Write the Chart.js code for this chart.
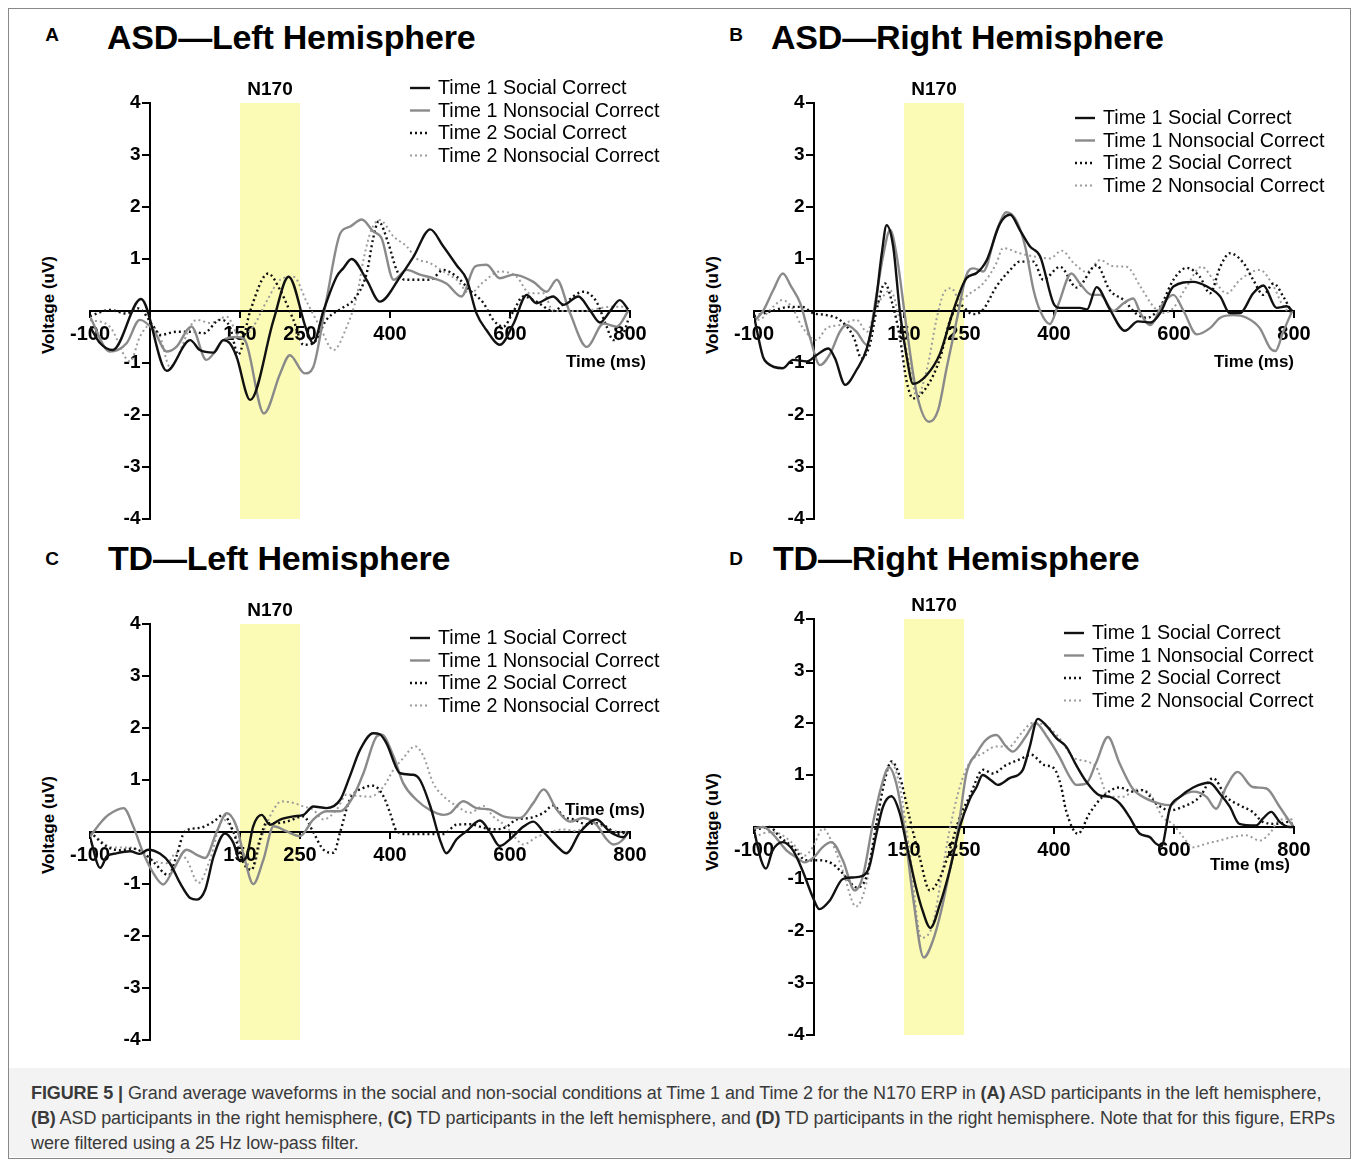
<!DOCTYPE html>
<html lang="en">
<head>
<meta charset="UTF-8">
<title>Figure 5</title>
<style>
  body { margin: 0; background: #fff; font-family: "Liberation Sans", Arial, sans-serif; }
  #fig { position: relative; width: 1358px; height: 1161px; overflow: hidden; }
  .frame { position: absolute; left: 8px; top: 8px; width: 1341px; height: 1149px; border: 1px solid #888; }
  .panel { position: absolute; }
  .txt { position: absolute; white-space: nowrap; line-height: 1; color: #000; }
  .letter { font-weight: bold; font-size: 19px; transform: translate(-50%, -50%); }
  .title { font-weight: bold; font-size: 34px; transform: translateY(-50%); letter-spacing: -0.2px; }
  .ylab { font-weight: bold; font-size: 17px; transform: translate(-50%, -50%) rotate(-90deg); }
  .caption { position: absolute; left: 9px; top: 1068px; width: 1341px; height: 89px; background: #f3f3f3; }
  .cap { position: absolute; left: 22px; font-size: 18px; color: #3a3a3a; white-space: nowrap; transform: translateY(-50%); letter-spacing: -0.1px; }
</style>
</head>
<body>
<div id="fig">
  <div class="frame"></div>

  <div class="txt letter" style="left:52px; top:34px;">A</div>
  <div class="txt title" style="left:107px; top:37px;">ASD—Left Hemisphere</div>
  <div class="txt letter" style="left:736px; top:34px;">B</div>
  <div class="txt title" style="left:771px; top:37px;">ASD—Right Hemisphere</div>
  <div class="txt letter" style="left:52px; top:558px;">C</div>
  <div class="txt title" style="left:108px; top:558px;">TD—Left Hemisphere</div>
  <div class="txt letter" style="left:736px; top:558px;">D</div>
  <div class="txt title" style="left:773px; top:558px;">TD—Right Hemisphere</div>

  <div class="txt ylab" style="left:48px; top:305px;">Voltage (uV)</div>
  <div class="txt ylab" style="left:712px; top:305px;">Voltage (uV)</div>
  <div class="txt ylab" style="left:48px; top:825px;">Voltage (uV)</div>
  <div class="txt ylab" style="left:712px; top:822px;">Voltage (uV)</div>

  <canvas class="panel" id="chartA" width="680" height="540" style="left:0; top:0;"></canvas>
  <canvas class="panel" id="chartB" width="678" height="540" style="left:680px; top:0;"></canvas>
  <canvas class="panel" id="chartC" width="680" height="520" style="left:0; top:540px;"></canvas>
  <canvas class="panel" id="chartD" width="678" height="520" style="left:680px; top:540px;"></canvas>

  <div class="caption">
    <div class="cap" style="top:25px;"><b>FIGURE 5 |</b> Grand average waveforms in the social and non-social conditions at Time 1 and Time 2 for the N170 ERP in <b>(A)</b> ASD participants in the left hemisphere,</div>
    <div class="cap" style="top:50px;"><b>(B)</b> ASD participants in the right hemisphere, <b>(C)</b> TD participants in the left hemisphere, and <b>(D)</b> TD participants in the right hemisphere. Note that for this figure, ERPs</div>
    <div class="cap" style="top:75px;">were filtered using a 25 Hz low-pass filter.</div>
  </div>
</div>

<script src="https://cdn.jsdelivr.net/npm/chart.js@4.4.1/dist/chart.umd.min.js"></script>
<script>
// tick values and labels
const xTickVals = [-100, 150, 250, 400, 600, 800];
const n170Window = [150, 250];
const seriesLabels = ["Time 1 Social Correct", "Time 1 Nonsocial Correct", "Time 2 Social Correct", "Time 2 Nonsocial Correct"];

// [time (ms), voltage (uV)]
// A: ASD left
const aT1Social = [[-100,-0.30],[-83,-0.62],[-62,-0.75],[-15,0.23],[28,-1.15],[67,-0.56],[83,-0.75],[106,-0.80],[122,-0.56],[133,-0.62],[144,-0.87],[167,-1.71],[206,-0.17],[231,0.66],[261,-0.37],[272,-0.62],[289,0.0],[311,0.66],[322,0.82],[336,1.0],[361,0.6],[383,0.18],[417,0.66],[439,1.04],[467,1.57],[489,1.24],[511,0.88],[528,0.6],[544,-0.04],[561,-0.37],[583,-0.65],[606,-0.24],[628,0.31],[644,0.15],[672,0.28],[689,0.12],[714,0.28],[733,0.02],[750,-0.22],[767,0.0],[783,0.21],[797,0.03]];
const aT1Nonsocial = [[-100,-0.11],[-67,-0.78],[-39,-0.62],[-17,-0.17],[6,-0.37],[28,-0.78],[44,-0.69],[69,-0.30],[94,-0.94],[122,-0.56],[144,-0.50],[158,-0.56],[190,-1.97],[217,-1.2],[233,-0.85],[258,-1.2],[272,-1.08],[294,0.21],[317,1.49],[333,1.62],[353,1.76],[372,1.53],[386,1.40],[406,0.6],[428,0.79],[450,0.7],[472,0.63],[494,0.53],[519,0.28],[542,0.86],[561,0.89],[583,0.63],[606,0.7],[639,0.56],[661,0.37],[678,0.6],[700,-0.04],[728,-0.69],[756,-0.24],[778,-0.3],[797,0.0]];
const aT2Social = [[-100,-0.1],[-67,0.02],[-39,-0.05],[-20,0.05],[6,-0.30],[17,-0.46],[44,-0.40],[72,-0.40],[89,-0.43],[117,-0.17],[133,-0.30],[147,-0.84],[167,0.0],[197,0.72],[217,0.40],[239,-0.17],[256,-0.65],[272,-0.62],[294,-0.17],[322,0.07],[339,0.21],[361,0.72],[372,1.4],[381,1.72],[397,1.31],[411,0.79],[425,0.6],[467,0.6],[489,0.79],[511,0.66],[533,0.40],[556,0.15],[572,-0.17],[589,-0.30],[606,0.0],[622,0.28],[644,0.18],[672,0.0],[694,0.18],[722,0.37],[744,0.18],[761,-0.30],[772,-0.56],[789,-0.43],[797,-0.17]];
const aT2Nonsocial = [[-100,-0.17],[-67,-0.3],[-33,-0.97],[-17,-0.5],[0,-0.27],[17,-0.5],[33,-1.07],[78,-0.17],[100,-0.23],[128,-0.11],[150,-0.50],[172,-0.3],[194,0.18],[217,0.6],[239,0.66],[261,0.18],[283,-0.3],[306,-0.75],[328,-0.3],[345,0.3],[356,1.0],[369,1.56],[383,1.75],[406,1.43],[428,1.24],[444,1.01],[467,0.92],[489,0.76],[511,0.6],[533,0.34],[556,0.56],[583,0.76],[611,0.66],[633,0.34],[656,0.34],[672,0.0],[722,0.0],[767,0.08],[789,0.08],[797,0.0]];

// B: ASD right
const bT1Social = [[-100,-0.1],[-85,-0.88],[-78,-1.0],[-52,-1.1],[-35,-0.94],[-12,-0.97],[4,-0.85],[24,-0.72],[35,-0.91],[52,-1.42],[71,-1.13],[88,-0.72],[102,0.08],[113,1.11],[121,1.65],[132,1.24],[143,0.0],[154,-0.85],[165,-1.40],[188,-1.23],[210,-0.82],[232,0.0],[254,0.63],[271,0.73],[288,0.98],[310,1.68],[327,1.85],[343,1.56],[360,1.24],[377,1.05],[399,0.15],[410,0.06],[443,0.06],[455,0.03],[471,0.46],[493,0.03],[518,-0.38],[540,-0.2],[561,-0.22],[577,-0.04],[599,0.47],[632,0.56],[655,0.47],[677,0.28],[693,-0.04],[710,-0.04],[732,0.34],[749,0.49],[771,0.06],[788,0.09],[797,0.0]];
const bT1Nonsocial = [[-100,-0.2],[-85,0.0],[-68,0.4],[-52,0.72],[-38,0.47],[-23,0.15],[-7,-0.5],[10,-1.04],[27,-0.82],[43,-0.4],[54,-0.27],[71,-0.4],[88,-0.65],[104,0.3],[115,1.05],[127,1.56],[138,1.05],[154,-0.3],[171,-1.58],[192,-2.13],[207,-1.9],[221,-1.1],[238,-0.17],[254,0.69],[266,0.82],[282,0.76],[304,1.53],[321,1.9],[338,1.72],[352,1.24],[366,0.40],[377,0.0],[393,-0.25],[407,0.12],[429,0.72],[443,0.53],[463,0.31],[477,0.31],[499,0.0],[516,0.15],[532,0.24],[544,-0.04],[560,-0.27],[582,0.15],[599,0.31],[616,0.0],[638,-0.45],[660,-0.33],[677,-0.13],[699,-0.08],[721,-0.13],[743,-0.33],[760,-0.71],[769,-0.77],[782,-0.40],[797,0.0]];
const bT2Social = [[-100,-0.1],[-70,0.0],[-40,0.08],[-20,0.08],[-2,-0.04],[21,-0.08],[43,-0.17],[66,-0.5],[79,-0.91],[93,-0.65],[104,0.0],[118,0.53],[132,0.08],[143,-0.5],[154,-1.33],[165,-1.68],[188,-1.46],[210,-0.91],[227,-0.17],[243,0.12],[260,-0.04],[268,-0.06],[282,0.03],[304,0.47],[327,0.79],[343,0.95],[366,0.95],[382,0.6],[410,0.85],[438,0.45],[471,0.88],[493,0.40],[516,0.21],[538,-0.06],[555,-0.13],[577,0.08],[599,0.6],[621,0.83],[643,0.66],[660,0.34],[677,0.85],[693,1.11],[716,0.92],[732,0.6],[749,0.31],[766,0.53],[782,0.28],[797,-0.04]];
const bT2Nonsocial = [[-100,-0.1],[-93,-0.17],[-68,0.08],[-53,0.21],[-37,0.08],[-20,-0.3],[4,-0.56],[21,-0.33],[43,-0.27],[71,-0.17],[88,-0.4],[104,0.08],[115,0.28],[127,0.4],[143,-0.17],[160,-1.07],[171,-1.65],[188,-1.13],[204,-0.17],[216,0.34],[229,0.44],[243,0.21],[260,0.34],[282,0.53],[304,0.92],[315,1.21],[343,1.11],[366,1.05],[393,1.01],[413,1.16],[433,0.92],[455,0.75],[477,0.98],[499,0.86],[521,0.85],[544,0.47],[566,0.08],[582,-0.04],[599,0.06],[621,0.47],[646,0.85],[666,0.6],[688,0.34],[710,0.6],[743,0.79],[766,0.47],[782,0.09],[797,-0.06]];

// C: TD left
const cT1Social = [[-100,-0.1],[-83,-0.69],[-72,-0.47],[-56,-0.41],[-33,-0.37],[-17,-0.42],[-3,-0.34],[17,-0.42],[33,-0.6],[50,-0.98],[67,-1.27],[78,-1.30],[92,-1.11],[106,-0.47],[125,-0.03],[139,-0.21],[150,-0.56],[161,-0.47],[172,0.11],[186,0.33],[200,0.14],[217,0.24],[239,0.30],[256,0.33],[272,0.49],[294,0.46],[317,0.62],[333,1.07],[350,1.58],[372,1.9],[383,1.88],[394,1.71],[417,1.13],[439,1.1],[450,1.0],[467,0.5],[483,-0.14],[494,-0.41],[511,-0.14],[528,0.02],[550,0.22],[567,-0.01],[583,-0.27],[600,-0.14],[622,0.10],[639,0.2],[656,0.0],[678,-0.27],[694,-0.41],[717,0.0],[744,0.24],[767,0.0],[789,-0.1],[797,0.0]];
const cT1Nonsocial = [[-100,-0.09],[-83,0.17],[-69,0.33],[-44,0.46],[-28,0.11],[-11,-0.41],[6,-0.8],[22,-1.01],[39,-0.72],[61,-0.34],[78,-0.44],[92,-0.5],[111,0.0],[128,0.36],[144,0.11],[158,-0.53],[172,-1.0],[189,-0.53],[206,0.11],[228,0.01],[250,-0.08],[272,0.24],[294,0.4],[317,0.4],[339,0.69],[356,1.14],[378,1.84],[386,1.87],[406,1.45],[422,0.94],[444,0.62],[467,0.42],[489,0.33],[500,0.36],[522,0.59],[544,0.46],[567,0.43],[589,0.30],[617,0.27],[639,0.56],[656,0.82],[678,0.43],[700,0.2],[722,0.27],[744,0.14],[761,-0.14],[772,-0.24],[789,-0.14],[797,0.0]];
const cT2Social = [[-100,0.0],[-72,-0.28],[-50,-0.35],[-28,-0.32],[-11,-0.4],[6,-0.58],[31,-0.83],[44,-0.47],[58,0.01],[83,0.08],[106,0.2],[122,0.33],[139,0.0],[156,-0.6],[169,-0.73],[183,-0.15],[194,0.17],[211,0.17],[228,0.2],[256,0.3],[272,0.0],[289,-0.34],[306,-0.4],[317,0.0],[333,0.62],[356,0.85],[372,0.89],[389,0.69],[400,0.37],[411,0.02],[428,-0.04],[456,-0.04],[489,-0.04],[511,0.14],[533,0.15],[556,0.08],[578,0.05],[594,0.1],[611,0.24],[633,0.27],[656,0.37],[672,0.51],[689,0.30],[706,0.24],[728,0.15],[744,0.17],[761,0.1],[778,-0.04],[797,0.0]];
const cT2Nonsocial = [[-100,0.0],[-61,-0.3],[-33,-0.3],[-11,-0.4],[6,-0.55],[28,-0.6],[44,-0.4],[61,-0.53],[81,-0.98],[100,-0.53],[122,0.24],[139,0.0],[156,-0.4],[169,-0.73],[189,0.0],[206,0.43],[219,0.59],[239,0.56],[256,0.49],[272,0.43],[289,0.24],[311,0.43],[328,0.72],[350,0.69],[367,0.68],[389,0.87],[406,1.2],[422,1.42],[442,1.65],[456,1.45],[472,0.94],[489,0.69],[511,0.5],[533,0.37],[556,0.5],[572,0.3],[594,0.1],[611,-0.14],[622,-0.24],[644,-0.1],[667,0.0],[689,0.05],[711,0.02],[733,0.17],[756,0.1],[778,0.01],[797,0.0]];

// D: TD right
const dT1Social = [[-100,-0.06],[-88,-0.64],[-80,-0.80],[-69,-0.45],[-52,-0.29],[-35,-0.45],[-19,-0.84],[-2,-1.35],[9,-1.58],[26,-1.42],[48,-1.0],[65,-0.97],[81,-0.94],[92,-0.77],[104,-0.13],[115,0.39],[129,0.59],[143,0.26],[154,-0.32],[170,-1.16],[181,-1.61],[194,-1.94],[210,-1.48],[226,-0.84],[243,0.0],[259,0.52],[271,0.77],[281,1.0],[295,0.9],[306,0.81],[326,0.94],[348,1.1],[359,1.52],[373,2.08],[388,1.94],[404,1.71],[420,1.55],[437,1.19],[454,0.87],[476,0.61],[493,0.58],[510,0.45],[526,0.19],[543,-0.13],[559,-0.19],[570,-0.32],[579,-0.37],[593,0.36],[610,0.58],[632,0.76],[659,0.85],[676,0.65],[693,0.39],[709,0.06],[737,0.03],[748,0.16],[762,0.29],[776,0.1],[793,0.0],[800,0.0]];
const dT1Nonsocial = [[-100,-0.03],[-85,0.0],[-69,-0.13],[-46,-0.45],[-30,-0.58],[-16,-0.68],[0,-0.58],[14,-0.39],[29,-0.29],[48,-0.64],[68,-1.22],[81,-0.97],[98,0.06],[112,0.77],[125,1.15],[137,0.84],[151,-0.06],[165,-1.35],[183,-2.51],[198,-2.19],[212,-1.61],[226,-0.84],[240,-0.06],[254,1.03],[271,1.42],[287,1.68],[304,1.77],[320,1.55],[331,1.45],[353,1.74],[369,2.0],[388,1.74],[409,1.35],[426,0.97],[437,0.81],[454,0.84],[470,1.23],[490,1.73],[509,1.23],[531,0.74],[553,0.55],[576,0.45],[593,0.42],[610,0.58],[632,0.68],[654,0.58],[670,0.35],[687,0.77],[706,1.06],[731,0.77],[754,0.74],[776,0.39],[793,0.1],[800,0.0]];
const dT2Social = [[-100,-0.06],[-74,0.0],[-57,-0.19],[-35,-0.39],[-13,-0.64],[9,-0.64],[31,-0.71],[54,-0.97],[70,-1.16],[87,-0.97],[104,0.06],[118,0.9],[129,1.26],[143,0.97],[159,0.19],[176,-0.58],[193,-1.22],[210,-0.97],[226,-0.45],[243,0.19],[259,0.58],[282,1.1],[298,1.03],[320,1.19],[343,1.3],[362,1.39],[384,1.19],[400,1.13],[412,0.77],[420,0.32],[440,-0.13],[459,0.26],[481,0.58],[509,0.76],[531,0.68],[548,0.71],[570,0.45],[593,0.32],[615,0.39],[643,0.58],[665,0.94],[687,0.58],[709,0.42],[731,0.29],[748,0.1],[771,0.06],[793,0.1],[800,0.0]];
const dT2Nonsocial = [[-100,-0.19],[-74,-0.1],[-57,-0.13],[-35,-0.32],[-16,-0.55],[-2,-0.39],[15,-0.03],[31,-0.32],[48,-0.84],[70,-1.53],[87,-1.1],[104,0.06],[118,0.97],[129,1.23],[143,0.77],[159,-0.45],[179,-2.13],[198,-1.87],[215,-0.77],[226,-0.06],[243,0.77],[259,1.23],[282,1.42],[304,1.55],[326,1.55],[343,1.77],[365,2.0],[388,1.94],[409,1.71],[431,1.35],[454,1.26],[470,1.16],[492,0.58],[515,0.58],[537,0.72],[559,0.65],[581,0.19],[598,0.06],[615,-0.19],[632,-0.39],[654,-0.32],[676,-0.26],[698,-0.19],[720,-0.16],[743,-0.26],[759,-0.13],[776,0.13],[793,0.16],[800,0.1]];

const FONT = '"Liberation Sans", Arial, sans-serif';

const lineStyles = [
  { borderColor: "#111111", borderWidth: 2.4, borderDash: [] },
  { borderColor: "#8a8a8a", borderWidth: 2.4, borderDash: [] },
  { borderColor: "#111111", borderWidth: 2.4, borderDash: [2, 3] },
  { borderColor: "#9c9c9c", borderWidth: 2.0, borderDash: [2, 3] }
];

// yellow N170 band, N170 label, legend, time axis label
const panelDecor = {
  id: "panelDecor",
  beforeDraw(chart, args, o) {
    const { ctx, chartArea, scales } = chart;
    const x0 = scales.x.getPixelForValue(n170Window[0]);
    const x1 = scales.x.getPixelForValue(n170Window[1]);
    ctx.save();
    ctx.fillStyle = "#fbfbb6";
    ctx.fillRect(x0, chartArea.top, x1 - x0, chartArea.bottom - chartArea.top);
    ctx.fillStyle = "#000";
    ctx.font = "bold 19px " + FONT;
    ctx.textAlign = "center";
    ctx.textBaseline = "middle";
    ctx.fillText("N170", (x0 + x1) / 2, chartArea.top - 13);
    ctx.restore();
  },
  afterDraw(chart, args, o) {
    const ctx = chart.ctx;
    ctx.save();
    ctx.font = "19.7px " + FONT;
    ctx.textBaseline = "middle";
    ctx.textAlign = "left";
    chart.data.datasets.forEach((ds, i) => {
      const y = o.legend.y + i * o.legend.dy;
      ctx.strokeStyle = ds.borderColor;
      ctx.lineWidth = ds.borderWidth;
      ctx.setLineDash(ds.borderDash);
      ctx.beginPath();
      ctx.moveTo(o.legend.x, y);
      ctx.lineTo(o.legend.x + 20, y);
      ctx.stroke();
      ctx.fillStyle = "#000";
      ctx.fillText(ds.label, o.legend.x + 28, y + 1);
    });
    ctx.setLineDash([]);
    ctx.font = "bold 17px " + FONT;
    ctx.textAlign = "right";
    ctx.fillText("Time (ms)", o.timeLabel.x, o.timeLabel.y);
    ctx.restore();
  }
};

function makeChart(id, series, area, legend, timeLabel) {
  const canvas = document.getElementById(id);
  const w = canvas.width, h = canvas.height;
  return new Chart(canvas.getContext("2d"), {
    type: "line",
    data: {
      datasets: series.map((s, i) => Object.assign({
        label: seriesLabels[i],
        data: s,
        pointRadius: 0,
        cubicInterpolationMode: "monotone",
        fill: false
      }, lineStyles[i]))
    },
    options: {
      responsive: false,
      animation: false,
      events: [],
      layout: { padding: { left: area.left, top: area.top, right: w - area.right, bottom: h - area.bottom } },
      plugins: {
        legend: { display: false },
        tooltip: { enabled: false },
        panelDecor: { legend: legend, timeLabel: timeLabel }
      },
      scales: {
        x: {
          type: "linear",
          min: -100,
          max: 800,
          position: { y: 0 },
          afterBuildTicks: (s) => { s.ticks = xTickVals.map(v => ({ value: v })); },
          ticks: { autoSkip: false, maxRotation: 0, color: "#000", padding: 5, font: { family: FONT, size: 20, weight: "bold" } },
          grid: { drawOnChartArea: false, drawTicks: true, tickLength: 6, color: "#000", lineWidth: 2 },
          border: { display: true, color: "#000", width: 2 }
        },
        y: {
          type: "linear",
          min: -4,
          max: 4,
          position: { x: 0 },
          ticks: { stepSize: 1, color: "#000", padding: 3, font: { family: FONT, size: 19, weight: "bold" },
                   // en space keeps the label clear of the axis line
                   callback: v => (v === 0 ? "" : v + "\u2002") },
          grid: { drawOnChartArea: false, drawTicks: true, tickLength: 7, color: "#000", lineWidth: 2 },
          border: { display: true, color: "#000", width: 2 }
        }
      }
    },
    plugins: [panelDecor]
  });
}

makeChart("chartA", [aT1Social, aT1Nonsocial, aT2Social, aT2Nonsocial],
  { left: 90, top: 103, right: 630, bottom: 519 }, { x: 410, y: 88, dy: 22.5 }, { x: 646, y: 362 });
makeChart("chartB", [bT1Social, bT1Nonsocial, bT2Social, bT2Nonsocial],
  { left: 74, top: 103, right: 614, bottom: 519 }, { x: 395, y: 118, dy: 22.5 }, { x: 614, y: 362 });
makeChart("chartC", [cT1Social, cT1Nonsocial, cT2Social, cT2Nonsocial],
  { left: 90, top: 84, right: 630, bottom: 500 }, { x: 410, y: 98, dy: 22.5 }, { x: 645, y: 270 });
makeChart("chartD", [dT1Social, dT1Nonsocial, dT2Social, dT2Nonsocial],
  { left: 74, top: 79, right: 614, bottom: 495 }, { x: 384, y: 93, dy: 22.5 }, { x: 610, y: 325 });
</script>
</body>
</html>
